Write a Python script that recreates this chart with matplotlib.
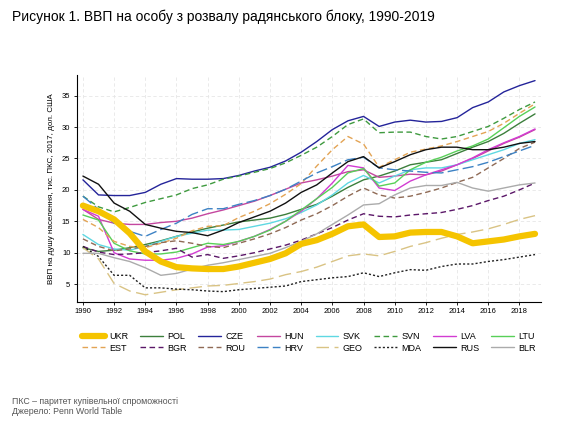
import numpy as np
import matplotlib
matplotlib.use("Agg")
import matplotlib.pyplot as plt

plt.rcParams['font.family'] = ['Liberation Sans', 'DejaVu Sans']

years = list(range(1990, 2020))

# ВВП на душу населення, тис. дол. США (ПКС 2017)
ukr = [17.5, 16.6, 15.3, 13.1, 10.2, 8.6, 7.7, 7.5, 7.4, 7.4, 7.8, 8.4, 9.0, 9.9, 11.4,
       12.0, 13.0, 14.2, 14.5, 12.5, 12.6, 13.2, 13.3, 13.3, 12.6, 11.5, 11.8, 12.1, 12.6, 13.0]
pol = [10.8, 10.2, 10.4, 10.8, 11.3, 11.9, 12.6, 13.3, 13.9, 14.4, 14.9, 15.2, 15.5, 16.1, 16.9,
       17.7, 19.0, 20.4, 21.6, 22.2, 23.0, 24.0, 24.4, 24.8, 25.8, 26.8, 27.7, 29.0, 30.6, 32.1]
cze = [21.6, 19.2, 19.1, 19.1, 19.6, 20.9, 21.8, 21.7, 21.7, 21.8, 22.3, 23.0, 23.6, 24.6, 26.0,
       27.7, 29.6, 31.0, 31.7, 30.1, 30.8, 31.1, 30.8, 30.9, 31.5, 33.1, 34.0, 35.6, 36.6, 37.4]
hun = [16.9, 15.3, 14.7, 14.5, 14.5, 14.8, 15.0, 15.5, 16.2, 16.8, 17.5, 18.2, 19.1, 20.1, 21.1,
       21.6, 22.2, 22.9, 23.2, 22.0, 22.2, 22.5, 22.4, 23.0, 24.0, 25.0, 26.2, 27.4, 28.4, 29.6]
svk = [12.9, 11.3, 10.6, 10.4, 11.0, 11.8, 12.6, 13.1, 13.6, 13.6, 13.7, 14.2, 14.7, 15.4, 16.4,
       17.6, 19.2, 21.1, 22.3, 21.1, 22.2, 23.2, 23.5, 23.5, 24.0, 24.8, 25.6, 26.4, 27.4, 28.0]
svn = [19.0, 17.3, 16.5, 17.2, 18.0, 18.6, 19.2, 20.2, 20.8, 21.7, 22.2, 22.8, 23.4, 24.3, 25.5,
       26.8, 28.5, 30.4, 31.3, 29.1, 29.2, 29.2, 28.5, 28.1, 28.5, 29.3, 30.1, 31.4, 32.8, 34.0]
lva = [16.9, 15.8, 10.0, 9.0, 8.8, 8.8, 9.1, 9.8, 10.9, 11.1, 11.8, 12.6, 13.7, 15.0, 16.6,
       18.6, 21.1, 23.9, 23.5, 20.3, 19.9, 21.4, 22.4, 23.2, 24.0, 25.1, 26.4, 27.5, 28.5, 29.7]
ltu = [16.0, 15.2, 11.5, 10.3, 9.8, 9.8, 10.1, 10.8, 11.5, 11.3, 11.8, 12.6, 13.6, 15.0, 16.8,
       18.6, 20.4, 22.7, 23.4, 20.6, 21.1, 23.2, 24.4, 25.2, 26.2, 27.0, 28.1, 29.9, 31.7, 33.2]
est = [15.3, 14.0, 11.8, 11.0, 10.8, 11.5, 12.3, 13.5, 14.2, 14.3, 15.6, 16.6, 17.8, 19.3, 21.0,
       23.8, 26.4, 28.5, 27.3, 23.6, 24.8, 26.0, 26.5, 27.0, 27.7, 28.5, 29.3, 30.6, 32.2, 33.7]
bgr = [11.0, 10.1, 9.7, 9.8, 10.0, 10.3, 10.7, 9.3, 9.7, 9.1, 9.5, 10.0, 10.6, 11.2, 12.0,
       13.0, 14.0, 15.2, 16.2, 15.8, 15.7, 16.0, 16.2, 16.4, 16.9, 17.5, 18.3, 19.0, 20.0, 21.1]
rou = [12.2, 11.0, 10.3, 10.6, 11.0, 11.6, 11.9, 11.5, 11.0, 10.8, 11.5, 12.2, 13.0, 14.0, 15.2,
       16.2, 17.5, 19.0, 20.3, 19.2, 18.7, 19.0, 19.6, 20.3, 21.2, 22.0, 23.5, 25.0, 26.6, 27.6]
hrv = [19.0, 16.9, 14.7, 13.4, 12.6, 13.7, 14.7, 16.1, 17.0, 17.0, 17.7, 18.3, 19.1, 20.1, 21.4,
       22.7, 23.7, 24.8, 25.2, 23.5, 23.2, 23.0, 22.8, 22.7, 23.2, 23.7, 24.4, 25.3, 26.2, 27.1]
geo = [10.8, 9.0, 5.1, 3.9, 3.3, 3.7, 4.1, 4.4, 4.7, 4.8, 5.1, 5.4, 5.8, 6.5, 7.0,
       7.7, 8.6, 9.5, 9.8, 9.5, 10.2, 11.0, 11.6, 12.3, 12.9, 13.3, 13.8, 14.5, 15.3, 15.9]
mda = [11.0, 9.4, 6.4, 6.4, 4.4, 4.4, 4.2, 4.1, 3.9, 3.8, 4.1, 4.3, 4.5, 4.7, 5.4,
       5.7, 6.0, 6.2, 6.8, 6.2, 6.8, 7.3, 7.2, 7.8, 8.2, 8.2, 8.6, 8.9, 9.3, 9.7]
rus = [22.2, 20.9, 17.9, 16.6, 14.5, 13.9, 13.4, 13.2, 12.7, 13.6, 14.8, 15.7, 16.6, 17.9, 19.6,
       20.8, 22.7, 24.5, 25.3, 23.5, 24.5, 25.6, 26.4, 26.8, 26.8, 26.4, 26.4, 26.8, 27.4, 27.7]
blr = [9.9, 9.9, 9.2, 8.6, 7.6, 6.4, 6.7, 7.4, 8.0, 8.4, 8.9, 9.4, 9.9, 10.8, 11.8,
       13.0, 14.5, 16.0, 17.6, 17.8, 19.2, 20.3, 20.7, 20.7, 21.2, 20.3, 19.8, 20.3, 20.8, 21.1]

# (назва, дані, колір, товщина, штрих)
series = [
    ("UKR", ukr, "#f5c400", 4.5, None),
    ("POL", pol, "#3c7f3c", 1.0, None),
    ("CZE", cze, "#24249a", 1.0, None),
    ("HUN", hun, "#c4479f", 1.0, None),
    ("SVK", svk, "#5fd8e2", 1.0, None),
    ("SVN", svn, "#3f9a3f", 1.0, (4, 2.5)),
    ("LVA", lva, "#d23cd2", 1.0, None),
    ("LTU", ltu, "#58d058", 1.0, None),
    ("EST", est, "#e3a455", 1.0, (4, 2.5)),
    ("BGR", bgr, "#5b1768", 1.0, (4, 2.5)),
    ("ROU", rou, "#8f6a55", 1.0, (4, 2.5)),
    ("HRV", hrv, "#3d82c4", 1.0, (8, 3)),
    ("GEO", geo, "#d9c384", 1.0, (9, 4)),
    ("MDA", mda, "#222222", 1.0, (1.5, 1.5)),
    ("RUS", rus, "#111111", 1.0, None),
    ("BLR", blr, "#ababab", 1.0, None),
]

fig = plt.figure(figsize=(5.84, 4.23), dpi=100)
ax = fig.add_axes([0.1313, 0.2868, 0.7955, 0.536])

lines = {}
# thick UKR line on top
for name, vals, color, lw, dash in series[1:] + series[:1]:
    ln, = ax.plot(years, vals, color=color, lw=lw, label=name,
                  solid_capstyle='round', solid_joinstyle='round')
    if dash is not None:
        ln.set_dashes(dash)
    lines[name] = ln

ax.set_xlim(1989.6, 2019.4)
ax.set_ylim(2.2, 38.3)
ax.set_xticks(range(1990, 2020, 2))
ax.set_yticks(range(5, 40, 5))
ax.tick_params(labelsize=5.5, length=2.5, width=0.6, pad=2)
ax.grid(True, color="#e6e6e6", lw=0.6, linestyle=(0, (4, 3)))
ax.set_axisbelow(True)
for s in ("top", "right"):
    ax.spines[s].set_visible(False)
for s in ("left", "bottom"):
    ax.spines[s].set_linewidth(0.8)
ax.set_ylabel("ВВП на душу населення, тис. ПКС, 2017, дол. США", fontsize=5.8, labelpad=5)

row1 = ["UKR", "POL", "CZE", "HUN", "SVK", "SVN", "LVA", "LTU"]
row2 = ["EST", "BGR", "ROU", "HRV", "GEO", "MDA", "RUS", "BLR"]
order = [n for pair in zip(row1, row2) for n in pair]
ax.legend([lines[n] for n in order], order, ncol=8, loc="upper center",
          bbox_to_anchor=(0.5, -0.115), frameon=False, fontsize=6.5,
          handlelength=2.5, handletextpad=0.5, columnspacing=1.3,
          labelspacing=0.25, borderpad=0)

fig.text(0.02, 0.96, "Рисунок 1. ВВП на особу з розвалу радянського блоку, 1990-2019",
         fontsize=10, va="center", ha="left")
fig.text(0.02, 0.050, "ПКС – паритет купівельної спроможності", fontsize=6.3,
         color="#555555", va="center")
fig.text(0.02, 0.027, "Джерело: Penn World Table", fontsize=6.3,
         color="#555555", va="center")

fig.savefig("out.png", dpi=100)
